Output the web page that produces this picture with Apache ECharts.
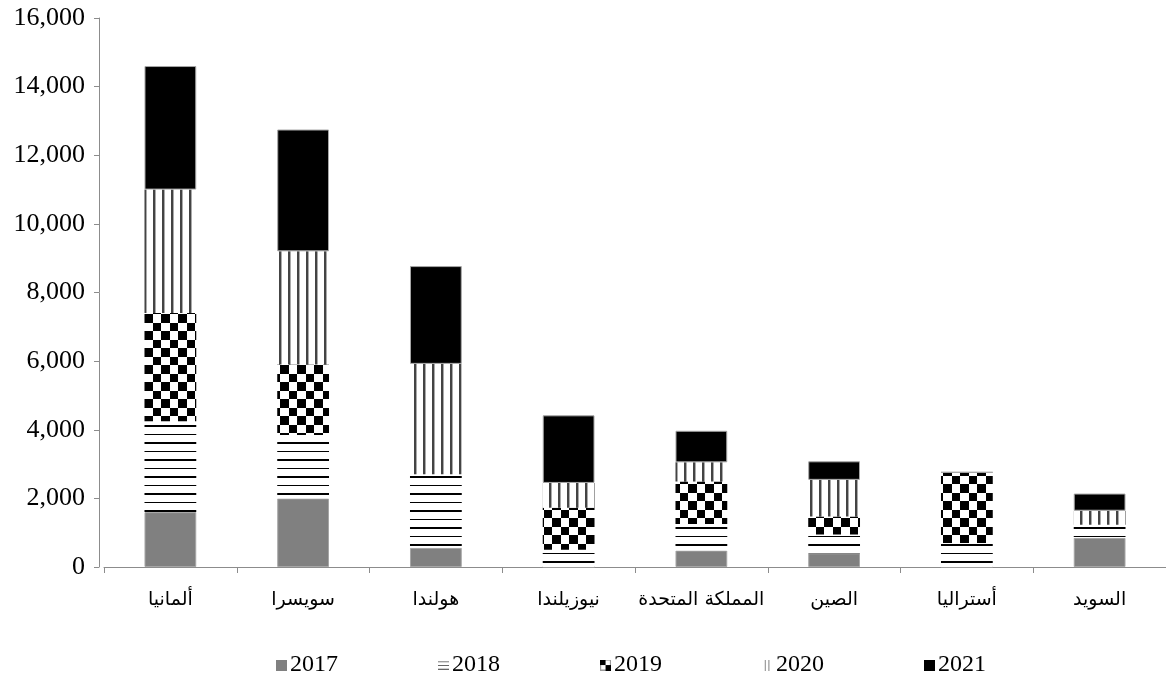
<!DOCTYPE html>
<html>
<head>
<meta charset="utf-8">
<script src="https://cdn.jsdelivr.net/npm/echarts@6/dist/echarts.min.js"></script>
<style>
  html, body { margin: 0; padding: 0; background: #fff; }
  #chart { width: 1166px; height: 679px; }
</style>
</head>
<body>
<div id="chart"></div>
<script>
// Categories (countries) and yearly values, stacked per country
const categories = ['ألمانيا', 'سويسرا', 'هولندا', 'نيوزيلندا', 'المملكة المتحدة', 'الصين', 'أستراليا', 'السويد'];
const years = ['2017', '2018', '2019', '2020', '2021'];
const v2017 = [1600, 2000, 560, 0, 480, 400, 0, 850];
const v2018 = [2650, 1850, 2140, 500, 770, 550, 700, 380];
const v2019 = [3150, 2050, 0, 1230, 1240, 520, 2060, 0];
const v2020 = [3600, 3300, 3220, 720, 560, 1070, 0, 410];
const v2021 = [3600, 3550, 2850, 1970, 920, 540, 0, 500];
const yTicks = [0, 2000, 4000, 6000, 8000, 10000, 12000, 14000, 16000];

// ---- fill patterns ----
function makeCanvas(w, h, draw) {
  const c = document.createElement('canvas');
  c.width = w; c.height = h;
  const ctx = c.getContext('2d');
  ctx.fillStyle = '#fff';
  ctx.fillRect(0, 0, w, h);
  draw(ctx);
  return c;
}
const hLines = makeCanvas(4, 17, ctx => {
  ctx.fillStyle = '#000';
  ctx.fillRect(0, 0, 4, 2);
  ctx.fillRect(0, 9, 4, 1);
});
const checker = makeCanvas(17, 17, ctx => {
  ctx.fillStyle = '#000';
  ctx.fillRect(0, 0, 8, 8);
  ctx.fillRect(8, 8, 9, 9);
});
const vLines = makeCanvas(9, 4, ctx => {
  ctx.fillStyle = '#444';
  ctx.fillRect(0, 0, 2, 4);
  ctx.fillStyle = '#aaa';
  ctx.fillRect(2, 0, 1, 4);
});

// ---- legend icons ----
const iconGray = makeCanvas(10, 10, ctx => { ctx.fillStyle = '#808080'; ctx.fillRect(0, 0, 10, 10); });
const iconH = makeCanvas(12, 10, ctx => {
  ctx.fillStyle = '#666';
  ctx.fillRect(0, 1, 12, 1); ctx.fillRect(0, 5, 12, 1); ctx.fillRect(0, 9, 12, 1);
});
const iconC = makeCanvas(10, 10, ctx => {
  ctx.strokeStyle = '#999'; ctx.lineWidth = 1; ctx.strokeRect(0.5, 0.5, 9, 9);
  ctx.fillStyle = '#000';
  ctx.fillRect(0, 0, 5, 5); ctx.fillRect(5, 5, 5, 5);
});
const iconV = makeCanvas(8, 12, ctx => {
  ctx.fillStyle = '#777';
  ctx.fillRect(1, 0, 1, 12); ctx.fillRect(5, 0, 1, 12);
});
const iconB = makeCanvas(10, 10, ctx => { ctx.fillStyle = '#000'; ctx.fillRect(0, 0, 10, 10); });
const img = c => 'image://' + c.toDataURL();

const fills = [
  '#808080',
  { image: hLines, repeat: 'repeat' },
  { image: checker, repeat: 'repeat' },
  { image: vLines, repeat: 'repeat' },
  '#000000'
];
const icons = [img(iconGray), img(iconH), img(iconC), img(iconV), img(iconB)];
const values = [v2017, v2018, v2019, v2020, v2021];

const series = years.map((y, i) => ({
  name: y,
  type: 'bar',
  stack: 'total',
  barWidth: '39%',
  data: values[i],
  itemStyle: {
    color: fills[i],
    borderColor: (i === 0 || i === 4) ? '#a6a6a6' : 'transparent',
    borderWidth: (i === 0 || i === 4) ? 1 : 0
  },
  emphasis: { disabled: true }
}));

const chart = echarts.init(document.getElementById('chart'), null, { renderer: 'canvas' });
chart.setOption({
  animation: false,
  backgroundColor: '#fff',
  grid: { left: 104, right: 0, top: 18, bottom: 112 },
  legend: {
    top: 648,
    left: 271,
    itemGap: 100,
    itemWidth: 11,
    itemHeight: 11,
    textStyle: { fontFamily: 'Liberation Serif', fontSize: 24, color: '#000', padding: [0, 0, 0, -2] },
    data: years.map((y, i) => ({ name: y, icon: icons[i] }))
  },
  xAxis: {
    type: 'category',
    data: categories,
    axisLine: { lineStyle: { color: '#8c8c8c', width: 1 } },
    axisTick: { show: true, length: 6, lineStyle: { color: '#8c8c8c' } },
    axisLabel: { fontFamily: 'DejaVu Sans', fontSize: 19, color: '#000', margin: 24, interval: 0 }
  },
  yAxis: {
    type: 'value',
    min: 0,
    max: 16000,
    interval: 2000,
    offset: 5,
    splitLine: { show: false },
    axisLine: { show: true, lineStyle: { color: '#8c8c8c', width: 1 } },
    axisTick: { show: true, length: 5, lineStyle: { color: '#8c8c8c' } },
    axisLabel: {
      fontFamily: 'Liberation Serif', fontSize: 26, color: '#000', margin: 14,
      formatter: v => yTicks.includes(v) ? v.toLocaleString('en-US') : ''
    }
  },
  series: series
});
</script>
</body>
</html>
